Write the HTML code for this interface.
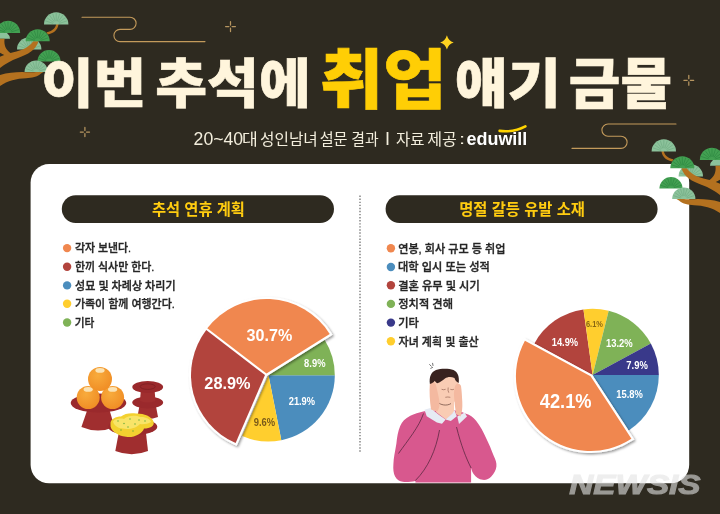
<!DOCTYPE html>
<html lang="ko">
<head>
<meta charset="utf-8">
<title>이번 추석에 취업 얘기 금물</title>
<style>
html,body{margin:0;padding:0;background:#2e2a20;}
body{width:720px;height:514px;overflow:hidden;font-family:"Liberation Sans","Noto Sans CJK KR",sans-serif;}
svg{display:block;}
</style>
</head>
<body>
<svg width="720" height="514" viewBox="0 0 720 514">
<rect width="720" height="514" fill="#2e2a20"/>
<path d="M82,17.2 H130 a6.1,6.1 0 0 1 0,12.2 H120 a6.1,6.1 0 0 0 0,12.2 H205" fill="none" stroke="#c39a5b" stroke-width="1.1" stroke-linecap="round"/>
<path d="M676,124 H608 a6.1,6.1 0 0 0 0,12.2 H621 a6.1,6.1 0 0 1 0,12.2 H572" fill="none" stroke="#c39a5b" stroke-width="1.1" stroke-linecap="round"/>
<g stroke="#cfa96c" stroke-width="1.25" stroke-linecap="round" opacity="0.85"><path d="M225.6,26.6H228.9M232.1,26.6H235.4M230.5,21.7V25.0M230.5,28.2V31.5"/></g>
<g stroke="#cfa96c" stroke-width="1.25" stroke-linecap="round" opacity="0.85"><path d="M80.3,132H83.3M86.5,132H89.5M84.9,127.4V130.4M84.9,133.6V136.6"/></g>
<g stroke="#cfa96c" stroke-width="1.25" stroke-linecap="round" opacity="0.85"><path d="M683.9,80.3H687.2M690.4,80.3H693.7M688.8,75.4V78.7M688.8,81.9V85.2"/></g>
<path d="M446.9,35.2 Q448.4,40.82 453.7,42.4 Q448.4,43.98 446.9,49.6 Q445.4,43.98 440.1,42.4 Q445.4,40.82 446.9,35.2Z" fill="#ffd320"/>
<g id="pine"><g><path d="M17.0,49.5 A12.2,12.2 0 0 1 41.4,49.5 Z" fill="#8cc29b"/><path d="M25.72,48.37L18.53,46.03M26.24,47.35L20.12,42.90M27.05,46.54L22.60,40.42M28.07,46.02L25.73,38.83M29.20,45.84L29.20,38.28M30.33,46.02L32.67,38.83M31.35,46.54L35.80,40.42M32.16,47.35L38.28,42.90M32.68,48.37L39.87,46.03" stroke="#74ae85" stroke-width="0.8" fill="none" stroke-linecap="round"/></g><path d="M-2,33 H7 Q10,35.5 10,38.8 H-2Z" fill="#8cc29b"/><path d="M56.3,24 C55,30 50,31.5 46.5,32.3 L47.8,34.4 C53,33.3 57.5,31 58.6,24Z" fill="#b4711f"/><path d="M-2,38.8 L4.6,38.8 C3.6,45 6,50 10.5,53 C18,51.5 28,49 33.2,41.3 L38.5,41.3 C36,50 28,54.5 18,58 C10,61 4,64.5 -2,69.5 L-2,57.5 L4.2,55 L-2,51.5Z" fill="#b4711f"/><path d="M-2,75.8 C6,72.8 14,72 22,72 C30,72.4 38,72.5 46,70.5 L41,73.5 C37,77 32,78 26,78.2 C16,78.6 6,81 -2,87.5Z" fill="#b4711f"/><g><path d="M-4.2,33 A12.2,12.2 0 0 1 20.2,33 Z" fill="#43a052"/><path d="M4.52,31.87L-2.67,29.53M5.04,30.85L-1.08,26.40M5.85,30.04L1.40,23.92M6.87,29.52L4.53,22.33M8.00,29.34L8.00,21.78M9.13,29.52L11.47,22.33M10.15,30.04L14.60,23.92M10.96,30.85L17.08,26.40M11.48,31.87L18.67,29.53" stroke="#2f8a43" stroke-width="0.8" fill="none" stroke-linecap="round"/></g><g><path d="M44.0,24.4 A12.2,12.2 0 0 1 68.4,24.4 Z" fill="#8cc29b"/><path d="M52.72,23.27L45.53,20.93M53.24,22.25L47.12,17.80M54.05,21.44L49.60,15.32M55.07,20.92L52.73,13.73M56.20,20.74L56.20,13.18M57.33,20.92L59.67,13.73M58.35,21.44L62.80,15.32M59.16,22.25L65.28,17.80M59.68,23.27L66.87,20.93" stroke="#74ae85" stroke-width="0.8" fill="none" stroke-linecap="round"/></g><g><path d="M25.7,41.3 A12,12 0 0 1 49.7,41.3 Z" fill="#43a052"/><path d="M34.28,40.19L27.20,37.89M34.79,39.18L28.77,34.81M35.58,38.39L31.21,32.37M36.59,37.88L34.29,30.80M37.70,37.70L37.70,30.26M38.81,37.88L41.11,30.80M39.82,38.39L44.19,32.37M40.61,39.18L46.63,34.81M41.12,40.19L48.20,37.89" stroke="#2f8a43" stroke-width="0.8" fill="none" stroke-linecap="round"/></g><g><path d="M37.4,61.6 A11.6,11.6 0 0 1 60.6,61.6 Z" fill="#43a052"/><path d="M45.69,60.52L38.85,58.30M46.18,59.55L40.37,55.33M46.95,58.78L42.73,52.97M47.92,58.29L45.70,51.45M49.00,58.12L49.00,50.93M50.08,58.29L52.30,51.45M51.05,58.78L55.27,52.97M51.82,59.55L57.63,55.33M52.31,60.52L59.15,58.30" stroke="#2f8a43" stroke-width="0.8" fill="none" stroke-linecap="round"/></g><g><path d="M24.6,72 A11.6,11.6 0 0 1 47.8,72 Z" fill="#8cc29b"/><path d="M32.89,70.92L26.05,68.70M33.38,69.95L27.57,65.73M34.15,69.18L29.93,63.37M35.12,68.69L32.90,61.85M36.20,68.52L36.20,61.33M37.28,68.69L39.50,61.85M38.25,69.18L42.47,63.37M39.02,69.95L44.83,65.73M39.51,70.92L46.35,68.70" stroke="#74ae85" stroke-width="0.8" fill="none" stroke-linecap="round"/></g></g>
<rect x="30.6" y="164" width="658.6" height="319.3" rx="18.5" fill="#fff"/>
<use href="#pine" transform="translate(720,127) scale(-1,1)"/>
<text font-family="'Liberation Sans','Noto Sans CJK KR',sans-serif" font-weight="900" fill="#fff5dc" stroke="#fff5dc" stroke-width="0.6" stroke-linejoin="miter" ><tspan x="41.28" y="103.14" font-size="53.05" textLength="104.91" lengthAdjust="spacingAndGlyphs">이번</tspan> <tspan x="155.30" y="103.12" font-size="53.32" textLength="155.45" lengthAdjust="spacingAndGlyphs">추석에</tspan> <tspan x="319.80" y="103.38" font-size="65.16" textLength="126.70" lengthAdjust="spacingAndGlyphs" fill="#ffce05" stroke="#ffce05">취업</tspan> <tspan x="454.69" y="103.07" font-size="53.26" textLength="106.07" lengthAdjust="spacingAndGlyphs">얘기</tspan> <tspan x="568.86" y="102.90" font-size="55.00" textLength="103.08" lengthAdjust="spacingAndGlyphs">금물</tspan></text>
<text font-family="'Liberation Sans','Noto Sans CJK KR',sans-serif" font-weight="400" fill="#f3eedd" ><tspan x="193.62" y="145.02" font-size="17.89" textLength="49.56" lengthAdjust="spacingAndGlyphs">20~40</tspan><tspan x="242.13" y="145.10" font-size="15.60" textLength="15.79" lengthAdjust="spacingAndGlyphs">대</tspan> <tspan x="260.01" y="145.10" font-size="15.60" textLength="57.83" lengthAdjust="spacingAndGlyphs">성인남녀</tspan> <tspan x="319.64" y="145.10" font-size="15.60" textLength="27.92" lengthAdjust="spacingAndGlyphs">설문</tspan> <tspan x="351.36" y="145.10" font-size="15.60" textLength="27.39" lengthAdjust="spacingAndGlyphs">결과</tspan> <tspan x="384.98" y="145.00" font-size="18.41" textLength="5.00" lengthAdjust="spacingAndGlyphs" font-weight="400">I</tspan> <tspan x="396.08" y="145.10" font-size="15.60" textLength="28.44" lengthAdjust="spacingAndGlyphs">자료</tspan> <tspan x="427.26" y="145.10" font-size="15.60" textLength="29.65" lengthAdjust="spacingAndGlyphs">제공</tspan> <tspan x="459.02" y="143.60" font-size="14.34" textLength="6.12" lengthAdjust="spacingAndGlyphs">:</tspan> <tspan x="466.48" y="144.51" font-size="19.05" textLength="60.86" lengthAdjust="spacingAndGlyphs" fill="#ffffff" font-family="'Liberation Sans',sans-serif" font-weight="700">eduwill</tspan></text>
<path d="M499.6,130.9 Q514,132.6 525.4,126.4" fill="none" stroke="#ffd400" stroke-width="2.6" stroke-linecap="round"/>
<rect x="61.8" y="195.2" width="272.2" height="27.8" rx="13.9" fill="#2e2a20"/>
<rect x="385.6" y="195.2" width="272" height="27.8" rx="13.9" fill="#2e2a20"/>
<text font-family="'Liberation Sans','Noto Sans CJK KR',sans-serif" font-weight="700" fill="#ffcc10" ><tspan x="151.89" y="215.36" font-size="15.96" textLength="93.03" lengthAdjust="spacingAndGlyphs">추석 연휴 계획</tspan></text>
<text font-family="'Liberation Sans','Noto Sans CJK KR',sans-serif" font-weight="700" fill="#ffcc10" ><tspan x="459.27" y="215.35" font-size="16.13" textLength="125.66" lengthAdjust="spacingAndGlyphs">명절 갈등 유발 소재</tspan></text>
<path d="M360,195.5 V452.5" stroke="#7c7c7c" stroke-width="1.4" stroke-dasharray="1.4 1.67" fill="none"/>
<circle cx="67.1" cy="248.1" r="4.2" fill="#f0874f"/>
<text font-family="'Liberation Sans','Noto Sans CJK KR',sans-serif" font-weight="500" fill="#262626" stroke="#262626" stroke-width="0.35" stroke-linejoin="miter" ><tspan x="75.04" y="252.40" font-size="11.60" textLength="56.03" lengthAdjust="spacingAndGlyphs">각자 보낸다.</tspan></text>
<circle cx="67.1" cy="266.7" r="4.2" fill="#b2443d"/>
<text font-family="'Liberation Sans','Noto Sans CJK KR',sans-serif" font-weight="500" fill="#262626" stroke="#262626" stroke-width="0.35" stroke-linejoin="miter" ><tspan x="74.93" y="271.00" font-size="11.60" textLength="79.42" lengthAdjust="spacingAndGlyphs">한끼 식사만 한다.</tspan></text>
<circle cx="67.1" cy="285.4" r="4.2" fill="#4b8dbd"/>
<text font-family="'Liberation Sans','Noto Sans CJK KR',sans-serif" font-weight="500" fill="#262626" stroke="#262626" stroke-width="0.35" stroke-linejoin="miter" ><tspan x="75.03" y="289.70" font-size="11.60" textLength="100.56" lengthAdjust="spacingAndGlyphs">성묘 및 차례상 차리기</tspan></text>
<circle cx="67.1" cy="303.8" r="4.2" fill="#ffce2e"/>
<text font-family="'Liberation Sans','Noto Sans CJK KR',sans-serif" font-weight="500" fill="#262626" stroke="#262626" stroke-width="0.35" stroke-linejoin="miter" ><tspan x="74.93" y="308.10" font-size="11.60" textLength="99.92" lengthAdjust="spacingAndGlyphs">가족이 함께 여행간다.</tspan></text>
<circle cx="67.1" cy="322.5" r="4.2" fill="#7fb257"/>
<text font-family="'Liberation Sans','Noto Sans CJK KR',sans-serif" font-weight="500" fill="#262626" stroke="#262626" stroke-width="0.35" stroke-linejoin="miter" ><tspan x="74.84" y="326.80" font-size="11.60" textLength="19.60" lengthAdjust="spacingAndGlyphs">기타</tspan></text>
<circle cx="390.9" cy="248.3" r="4.2" fill="#f0874f"/>
<text font-family="'Liberation Sans','Noto Sans CJK KR',sans-serif" font-weight="500" fill="#262626" stroke="#262626" stroke-width="0.35" stroke-linejoin="miter" ><tspan x="398.21" y="252.60" font-size="11.60" textLength="107.14" lengthAdjust="spacingAndGlyphs">연봉, 회사 규모 등 취업</tspan></text>
<circle cx="390.9" cy="267.0" r="4.2" fill="#4b8dbd"/>
<text font-family="'Liberation Sans','Noto Sans CJK KR',sans-serif" font-weight="500" fill="#262626" stroke="#262626" stroke-width="0.35" stroke-linejoin="miter" ><tspan x="397.98" y="271.30" font-size="11.60" textLength="91.92" lengthAdjust="spacingAndGlyphs">대학 입시 또는 성적</tspan></text>
<circle cx="390.9" cy="285.2" r="4.2" fill="#b2443d"/>
<text font-family="'Liberation Sans','Noto Sans CJK KR',sans-serif" font-weight="500" fill="#262626" stroke="#262626" stroke-width="0.35" stroke-linejoin="miter" ><tspan x="398.20" y="289.50" font-size="11.60" textLength="81.51" lengthAdjust="spacingAndGlyphs">결혼 유무 및 시기</tspan></text>
<circle cx="390.9" cy="303.9" r="4.2" fill="#7fb257"/>
<text font-family="'Liberation Sans','Noto Sans CJK KR',sans-serif" font-weight="500" fill="#262626" stroke="#262626" stroke-width="0.35" stroke-linejoin="miter" ><tspan x="398.31" y="308.20" font-size="11.60" textLength="54.71" lengthAdjust="spacingAndGlyphs">정치적 견해</tspan></text>
<circle cx="390.9" cy="322.6" r="4.2" fill="#39398a"/>
<text font-family="'Liberation Sans','Noto Sans CJK KR',sans-serif" font-weight="500" fill="#262626" stroke="#262626" stroke-width="0.35" stroke-linejoin="miter" ><tspan x="398.21" y="326.90" font-size="11.60" textLength="20.54" lengthAdjust="spacingAndGlyphs">기타</tspan></text>
<circle cx="390.9" cy="341.3" r="4.2" fill="#ffce2e"/>
<text font-family="'Liberation Sans','Noto Sans CJK KR',sans-serif" font-weight="500" fill="#262626" stroke="#262626" stroke-width="0.35" stroke-linejoin="miter" ><tspan x="398.54" y="345.60" font-size="11.60" textLength="80.15" lengthAdjust="spacingAndGlyphs">자녀 계획 및 출산</tspan></text>
<defs><filter id="sh" x="-20%" y="-20%" width="140%" height="140%"><feDropShadow dx="1.5" dy="1.5" stdDeviation="1.3" flood-color="#000" flood-opacity="0.4"/></filter></defs>
<path d="M268.50,375.20 L334.80,375.20 A66.3,66.3 0 0 1 281.33,440.25 Z" fill="#4b8dbd" />
<path d="M268.50,375.20 L281.33,440.25 A66.3,66.3 0 0 1 242.17,436.05 Z" fill="#ffce2e" />
<path d="M268.50,375.20 L324.70,340.03 A66.3,66.3 0 0 1 334.80,375.20 Z" fill="#7fb257" />
<g filter="url(#sh)"><path d="M265.00,375.10 L235.61,443.01 A74,74 0 0 1 206.24,330.11 Z" fill="#fff" stroke="#fff" stroke-width="4.2" stroke-linejoin="miter"/><path d="M266.50,373.60 L207.27,328.25 A74.6,74.6 0 0 1 329.74,334.02 Z" fill="#fff" stroke="#fff" stroke-width="4.2" stroke-linejoin="miter"/></g>
<path d="M265.00,375.10 L235.61,443.01 A74,74 0 0 1 206.24,330.11 Z" fill="#b2443d" />
<path d="M266.50,373.60 L207.27,328.25 A74.6,74.6 0 0 1 329.74,334.02 Z" fill="#f0874f" />
<path d="M592.60,375.00 L658.80,375.00 A66.2,66.2 0 0 1 628.77,430.44 Z" fill="#4b8dbd" />
<path d="M592.60,375.00 L534.39,343.47 A66.2,66.2 0 0 1 583.48,309.43 Z" fill="#b2443d" />
<path d="M592.60,375.00 L583.48,309.43 A66.2,66.2 0 0 1 608.66,310.78 Z" fill="#ffce2e" />
<path d="M592.60,375.00 L608.66,310.78 A66.2,66.2 0 0 1 650.81,343.47 Z" fill="#7fb257" />
<path d="M592.60,375.00 L650.81,343.47 A66.2,66.2 0 0 1 658.80,375.00 Z" fill="#39398a" />
<g filter="url(#sh)"><path d="M590.60,376.30 L631.42,438.86 A74.7,74.7 0 0 1 524.92,340.73 Z" fill="#fff" stroke="#fff" stroke-width="4.2" stroke-linejoin="miter"/></g>
<path d="M590.60,376.30 L631.42,438.86 A74.7,74.7 0 0 1 524.92,340.73 Z" fill="#f0874f" />
<text font-family="'Liberation Sans',sans-serif" font-weight="700" fill="#fff" ><tspan x="246.58" y="341.23" font-size="17.18" textLength="45.73" lengthAdjust="spacingAndGlyphs">30.7%</tspan></text>
<text font-family="'Liberation Sans',sans-serif" font-weight="700" fill="#fff" ><tspan x="204.36" y="388.88" font-size="17.04" textLength="46.20" lengthAdjust="spacingAndGlyphs">28.9%</tspan></text>
<text font-family="'Liberation Sans',sans-serif" font-weight="700" fill="#fff" ><tspan x="304.12" y="366.69" font-size="10.70" textLength="21.36" lengthAdjust="spacingAndGlyphs">8.9%</tspan></text>
<text font-family="'Liberation Sans',sans-serif" font-weight="700" fill="#fff" ><tspan x="288.72" y="405.34" font-size="10.85" textLength="26.31" lengthAdjust="spacingAndGlyphs">21.9%</tspan></text>
<text font-family="'Liberation Sans',sans-serif" font-weight="700" fill="#7a5a1a" ><tspan x="253.72" y="425.50" font-size="10.42" textLength="21.45" lengthAdjust="spacingAndGlyphs">9.6%</tspan></text>
<text font-family="'Liberation Sans',sans-serif" font-weight="700" fill="#fff" ><tspan x="539.73" y="408.40" font-size="19.72" textLength="51.83" lengthAdjust="spacingAndGlyphs">42.1%</tspan></text>
<text font-family="'Liberation Sans',sans-serif" font-weight="700" fill="#fff" ><tspan x="551.74" y="345.74" font-size="10.85" textLength="26.40" lengthAdjust="spacingAndGlyphs">14.9%</tspan></text>
<text font-family="'Liberation Sans',sans-serif" font-weight="700" fill="#8a6914" ><tspan x="585.95" y="327.46" font-size="9.44" textLength="17.02" lengthAdjust="spacingAndGlyphs">6.1%</tspan></text>
<text font-family="'Liberation Sans',sans-serif" font-weight="700" fill="#fff" ><tspan x="605.93" y="346.74" font-size="10.85" textLength="26.81" lengthAdjust="spacingAndGlyphs">13.2%</tspan></text>
<text font-family="'Liberation Sans',sans-serif" font-weight="700" fill="#fff" ><tspan x="626.32" y="368.64" font-size="10.85" textLength="21.45" lengthAdjust="spacingAndGlyphs">7.9%</tspan></text>
<text font-family="'Liberation Sans',sans-serif" font-weight="700" fill="#fff" ><tspan x="616.34" y="397.84" font-size="11.13" textLength="26.60" lengthAdjust="spacingAndGlyphs">15.8%</tspan></text>
<g><path d="M140,403 L155.4,403 L158,417 Q147.7,421 137.4,417 Z" fill="#a02e2f"/><ellipse cx="147.7" cy="402.5" rx="15.4" ry="6" fill="#9a292c"/><path d="M141,388 L154.4,388 L155.5,401 Q147.7,404 140,401 Z" fill="#a02e2f"/><ellipse cx="147.7" cy="387" rx="15.4" ry="6" fill="#9a292c"/><ellipse cx="147.7" cy="386.6" rx="7.5" ry="2.8" fill="none" stroke="#7e1f22" stroke-width="0.9"/><path d="M89,405 L108,405 L114.5,427 Q98,434 81.4,427 Z" fill="#a02e2f"/><ellipse cx="98.5" cy="403" rx="27.8" ry="9.6" fill="#9a292c"/><defs><radialGradient id="og" cx="0.4" cy="0.35" r="0.75"><stop offset="0" stop-color="#f8ab3c"/><stop offset="1" stop-color="#ef8a22"/></radialGradient></defs><circle cx="88.2" cy="397.5" r="11.5" fill="url(#og)"/><ellipse cx="88.2" cy="389.4" rx="4.6" ry="2.3" fill="#fbe3b4"/><circle cx="112.6" cy="397.5" r="11.5" fill="url(#og)"/><ellipse cx="112.6" cy="389.4" rx="4.6" ry="2.3" fill="#fbe3b4"/><circle cx="100" cy="379" r="12" fill="url(#og)"/><ellipse cx="100" cy="370.4" rx="4.6" ry="2.3" fill="#fbe3b4"/><path d="M119.5,429 L145.5,429 L148,451 Q131.7,457.5 115.3,451 Z" fill="#a02e2f"/><ellipse cx="132.7" cy="426.7" rx="24.6" ry="8.5" fill="#9a292c"/><path d="M110.5,424 C110,419 116,416.5 121,416.5 C124,413.5 131,412.5 136,413.5 C142,413 152,416 153.5,421.5 C155,426 150,428.5 144,428.5 C142.5,434 133,438.2 126,436.8 C118,436 109.5,430.5 110.5,424Z" fill="#f3d130"/><path d="M113,421.5 C115,418.5 120,418 124,419 C128,415 136,415 140,417 C145,416.5 150.5,419 151,422 C148,424 143,424.5 140,424 C137,428 128,430 123,428.5 C118,428.5 113.5,425 113,421.5Z" fill="#f8e468"/><circle cx="118" cy="421" r="0.7" fill="#5fa63a"/><circle cx="124" cy="423.5" r="0.7" fill="#5fa63a"/><circle cx="130" cy="419" r="0.7" fill="#5fa63a"/><circle cx="135" cy="424" r="0.7" fill="#5fa63a"/><circle cx="139" cy="420" r="0.7" fill="#5fa63a"/><circle cx="145" cy="421" r="0.7" fill="#5fa63a"/><circle cx="128" cy="427" r="0.7" fill="#5fa63a"/><circle cx="133" cy="431" r="0.7" fill="#5fa63a"/><circle cx="121" cy="430" r="0.7" fill="#5fa63a"/></g>
<g><path d="M424.2,411.2 C419,412.5 414,414 410.3,415.8 C405,418.5 402,422 400.2,425.9 C398,431 397,437 396.4,443.6 C395,452 393.6,458 393.4,463.9 C393,469 393.5,473.5 395.1,476.5 C397,480 399.5,481.4 402.7,481.8 C407,482.4 411,481.6 415.4,480.9 L415.4,482.6 L471.1,482.6 L471.1,468 C471.8,470.5 472.5,472.5 473.6,474 C476,477.5 479,479.4 482.5,479.8 C486,480.2 489,479 491.3,476.5 C494,473.5 496,470 496.4,466.4 C496.8,463 495.5,459.5 493.9,456.3 C491.5,450 489,444 486.3,438.5 C483.5,432 480,426 476.1,420.8 C473,417 470,415 466,413.7 L458,410.5 L432,410.5 Z" fill="#d8588e"/><path d="M436,398 H454 V412 L446,419.5 L436,412Z" fill="#f9ccb4"/><path d="M424.5,409.7 L430.3,408 L439.1,414.9 L445.6,419.4 L442,423.8 L436.9,422.4 L426.7,416.3Z" fill="#e6ebf4"/><path d="M445.6,419.4 L452.2,413.4 L454.6,410.3 L456.8,416.3 L450.8,421 Z" fill="#e6ebf4"/><path d="M457.3,416.5 L464.6,412.5 L467,416.5 L459,424 Z" fill="#e6ebf4"/><path d="M432,380 C432,372 458.5,372 458.5,380 L457.5,394 C456.5,402 451,406.3 445,406.3 C439,406.3 433.5,402 432.5,394Z" fill="#f9ccb4"/><path d="M437.8,402 C440,405 447,406.3 451,403.5" stroke="#4a2a22" stroke-width="0.6" fill="none"/><path d="M429.8,384 C431,381.5 434,381.5 435.5,384 C437,388 438,394 439,399 C440,404 439.5,409 437,411.5 L431,409.5 C429.8,401 429.2,392 429.8,384Z" fill="#f4b9a0"/><path d="M455.5,385 C457,382.5 460,383 461,386 C461.8,391 462,397 462.3,402 C462.6,408 462,413 460.5,416.5 L456,414 C455,408 454.5,402 454,396 C453.8,392 454.3,388 455.5,385Z" fill="#f4b9a0"/><path d="M429.9,384 C429,377 431,372 436,370 C441,368.2 449,368.3 453.5,370 C458,372 459.5,377 458.7,383 C456.5,382 455,380.3 454.5,378 C451,376.5 447.5,376.8 445,378.5 C442.5,380.5 440,382.5 437.3,383.3 C436,382.6 435.3,381.8 434.8,380.8 C433.5,382.5 432,383.6 429.9,384Z" fill="#38221f"/><path d="M441.6,389.3 q2,0.9 4,0 M450.3,389.3 q1.8,0.9 3.6,0 M445.3,397.3 q2.5,-0.6 5,0 M448.2,387.5 q-0.7,3 0.6,5.2" stroke="#7a4a3a" stroke-width="0.55" fill="none"/><path d="M423.5,413.5 C419,427 408,440 398.5,453.5 M439.5,430 C436,450 428,468 415.4,480.5 M456.5,427 C461,445 466,458 471.1,468" stroke="#4a2236" stroke-width="0.7" fill="none"/><path d="M429.6,364.6 l1.7,1.6 M432.6,363.3 l0.4,2.2 M430.8,368.3 l1.8,-0.9" stroke="#333" stroke-width="0.7" fill="none" stroke-linecap="round"/></g>
<text font-family="'Liberation Sans',sans-serif" font-weight="700" fill="#e3e3e3" stroke="#e3e3e3" stroke-width="1.0" stroke-linejoin="miter" opacity="0.6"><tspan x="569.23" y="494.42" font-size="27.89" textLength="131.36" lengthAdjust="spacingAndGlyphs" font-style="italic">NEWSIS</tspan></text>
</svg>
</body>
</html>
